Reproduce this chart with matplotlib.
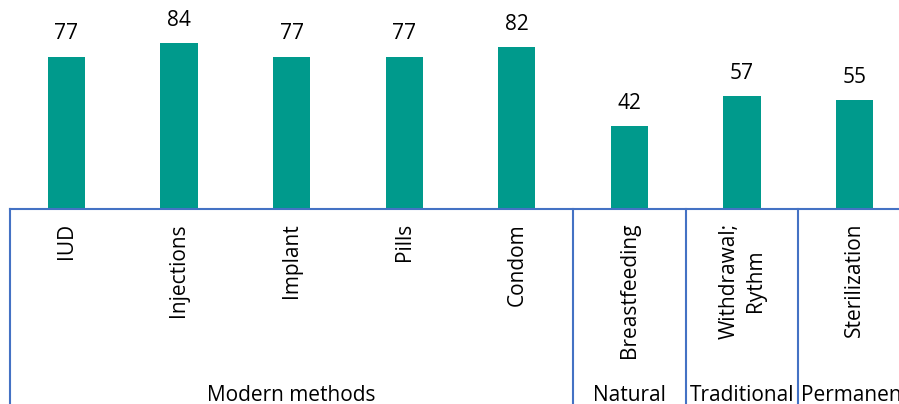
import matplotlib.pyplot as plt
from matplotlib.transforms import blended_transform_factory

# Data
methods = ['IUD', 'Injections', 'Implant', 'Pills', 'Condom',
           'Breastfeeding', 'Withdrawal;\nRythm', 'Sterilization']
values = [77, 84, 77, 77, 82, 42, 57, 55]
groups = ['Modern methods', 'Natural', 'Traditional', 'Permanent']
group_sizes = [5, 1, 1, 1]

BAR_COLOR = '#009A8C'
LINE_COLOR = '#4472C4'
FONT = 'Open Sans'

W, H = 899, 404
fig = plt.figure(figsize=(W / 100, H / 100), dpi=100)
# axes runs past the right edge of the figure, like the original
ax = fig.add_axes([10 / W, (H - 209) / H, 901 / W, 209 / H])

x = list(range(len(methods)))
ax.bar(x, values, width=0.33, color=BAR_COLOR)
ax.set_xlim(-0.5, len(methods) - 0.5)
ax.set_ylim(0, 105.8)

for xi, v in zip(x, values):
    ax.annotate(str(v), (xi, v), xytext=(0, 9), textcoords='offset points',
                ha='center', va='bottom', fontsize=15, family=FONT)

for s in ['top', 'right', 'left']:
    ax.spines[s].set_visible(False)
ax.spines['bottom'].set_color(LINE_COLOR)
ax.spines['bottom'].set_linewidth(1.5)
ax.set_yticks([])

ax.set_xticks(x)
ax.set_xticklabels(methods, rotation=90, fontsize=15, family=FONT,
                   multialignment='center', linespacing=1.35)
ax.tick_params(axis='x', length=0, pad=10)

# group separators and group labels below the axis
trans = blended_transform_factory(ax.transData, ax.transAxes)
start = -0.5
ax.plot([start, start], [0, -1], color=LINE_COLOR, lw=1.5,
        transform=trans, clip_on=False)
for name, n in zip(groups, group_sizes):
    end = start + n
    ax.plot([end, end], [0, -1], color=LINE_COLOR, lw=1.5,
            transform=trans, clip_on=False)
    ax.text((start + end) / 2, -0.89, name, transform=trans,
            ha='center', va='center', fontsize=15, family=FONT)
    start = end

fig.savefig('out.png', dpi=100)
